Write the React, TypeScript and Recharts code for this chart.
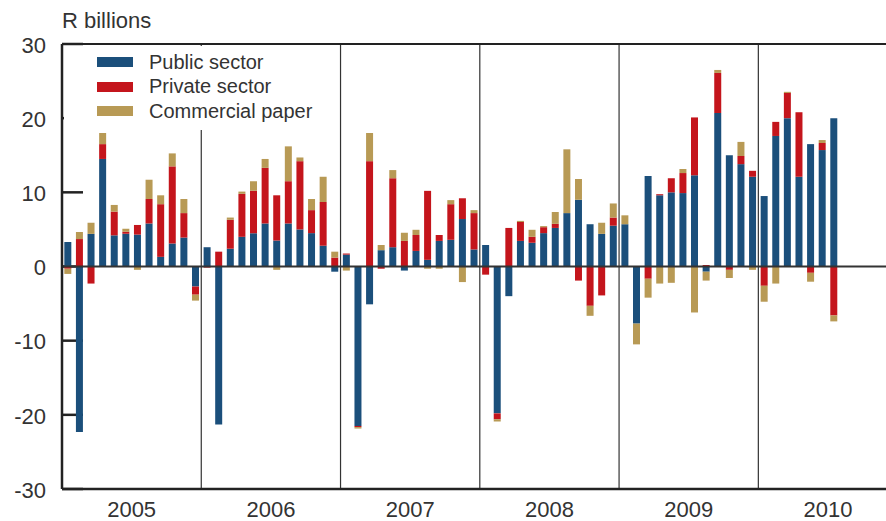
import { Bar, BarChart, CartesianGrid, Legend, ReferenceLine, XAxis, YAxis } from 'recharts';

const FONT = '"Liberation Sans", Arial, sans-serif';
const INK = '#333';

const years = ['2005', '2006', '2007', '2008', '2009', '2010'];
// frame runs Jan 2005 .. Nov 2010, data stops at Jul 2010
const slotCount = 71;

// monthly net issuance, R billions
const publicSector = [
  3.3, -22.3, 4.4, 14.5, 4.2, 4.4, 4.3, 5.8, 1.3, 3.1, 3.9, -2.7,
  2.6, -21.3, 2.4, 4.0, 4.5, 5.8, 3.5, 5.8, 5.0, 4.5, 2.8, -0.7,
  1.6, -21.5, -5.1, 2.2, 2.6, -0.55, 2.1, 0.9, 3.45, 3.6, 6.4, 2.3,
  2.9, -19.8, -4.0, 3.45, 3.2, 4.5, 5.2, 7.2, 9.0, 5.7, 4.4, 5.5,
  5.7, -7.7, 12.2, 9.6, 10.0, 9.9, 12.3, -0.7, 20.7, 15.0, 13.8, 12.1,
  9.5, 17.6, 20.0, 12.1, 16.5, 15.7, 20.0,
];
const privateSector = [
  -0.3, 3.7, -2.3, 2.0, 3.2, 0.3, 1.3, 3.3, 7.1, 10.4, 3.3, -1.1,
  -0.15, 2.0, 3.9, 5.8, 5.7, 7.5, 6.1, 5.7, 9.2, 3.1, 5.9, 1.2,
  0.15, -0.15, 14.2, -0.3, 9.3, 3.45, 2.15, 9.3, 0.8, 4.8, 2.8, 4.9,
  -1.1, -0.8, 5.2, 2.55, 0.8, 0.8, 0.55, 0, -1.9, -5.3, -3.9, 1.1,
  0, 0, -1.65, 0.15, 1.9, 2.7, 7.8, 0.2, 5.4, -0.45, 1.1, 0.8,
  -2.6, 1.9, 3.4, 8.7, -0.85, 0.95, -6.6,
];
const commercialPaper = [
  -0.7, 0.95, 1.5, 1.5, 0.9, 0.4, -0.45, 2.6, 1.2, 1.75, 1.9, -0.8,
  0, 0, 0.3, 0.3, 1.3, 1.2, -0.45, 4.7, 0.5, 1.5, 3.4, 0.8,
  -0.55, -0.2, 3.8, 0.7, 1.1, 1.1, 0.7, -0.3, -0.3, 0.55, -2.1, 0.4,
  0, -0.3, 0, 0.15, 0.95, 0.15, 1.6, 8.6, 2.8, -1.35, 1.5, 1.9,
  1.2, -2.8, -2.55, -2.3, -2.2, 0.55, -6.2, -1.2, 0.4, -1.1, 1.9, -0.45,
  -2.15, -2.3, 0.15, 0, -1.2, 0.4, -0.8,
];

const yTicks = [-30, -20, -10, 0, 10, 20, 30];
const yearTicks = [6, 18, 30, 42, 54, 66];
const yearBreaks = [12, 24, 36, 48, 60];

const series = [
  { key: 'pub', name: 'Public sector', color: '#1b4f7b', values: publicSector },
  { key: 'priv', name: 'Private sector', color: '#c4151c', values: privateSector },
  { key: 'cp', name: 'Commercial paper', color: '#b89a55', values: commercialPaper },
];

const data = Array.from({ length: slotCount }, (_, i) => {
  const row: Record<string, string | number | null> = {
    month: `${years[Math.floor(i / 12)]}-${i % 12 + 1}`,
    pos: i + 0.5,
  };
  series.forEach((s) => {
    row[s.key] = i < s.values.length ? s.values[i] : null;
  });
  return row;
});

const renderUnit = (p: any) => {
  const vb = p.viewBox;
  return (
    <text x={vb.x + vb.width} y={vb.y - 16} fontSize={22} fill={INK} fontFamily={FONT}>
      R billions
    </text>
  );
};

function KeyBox() {
  return (
    <div style={{ background: '#fff', width: 270, height: 84, paddingTop: 4, boxSizing: 'border-box' }}>
      {series.map((s) => (
        <div key={s.key} style={{ display: 'flex', alignItems: 'center', height: 24.5 }}>
          <span style={{ display: 'inline-block', width: 36, height: 10, background: s.color, marginLeft: 33 }} />
          <span style={{ marginLeft: 16, fontSize: 20, color: INK, fontFamily: FONT }}>{s.name}</span>
        </div>
      ))}
    </div>
  );
}

export default function App() {
  return (
    <div style={{ position: 'absolute', left: 0, top: 0 }}>
      <BarChart
        width={886}
        height={521}
        data={data}
        stackOffset="sign"
        barCategoryGap="20%"
        margin={{ top: 44, right: 0, bottom: 0, left: 0 }}
      >
        {/* grid rows cut to short stubs = inward y ticks */}
        <CartesianGrid vertical={false} stroke="#222" strokeWidth={2.5} strokeDasharray="21 3000" />
        <XAxis xAxisId="cat" dataKey="month" orientation="top" height={0} hide />
        <XAxis
          xAxisId="yr"
          dataKey="pos"
          type="number"
          domain={[0, slotCount]}
          allowDataOverflow
          ticks={yearTicks}
          tickFormatter={(v) => years[Math.floor(v / 12)]}
          height={32}
          tickLine={false}
          tickSize={0}
          tickMargin={12}
          axisLine={{ stroke: '#222', strokeWidth: 2.5 }}
          tick={{ fontSize: 22, fill: INK, fontFamily: FONT }}
        />
        {yearBreaks.map((b) => (
          <ReferenceLine key={b} xAxisId="yr" x={b} stroke="#333" strokeWidth={1.2} />
        ))}
        {series.map((s) => (
          <Bar
            key={s.key}
            xAxisId="cat"
            dataKey={s.key}
            name={s.name}
            stackId="a"
            fill={s.color}
            isAnimationActive={false}
          />
        ))}
        <ReferenceLine xAxisId="yr" y={0} stroke="#333" strokeWidth={2} />
        <ReferenceLine xAxisId="yr" y={30} stroke="#222" strokeWidth={2} />
        <YAxis
          domain={[-30, 30]}
          ticks={yTicks}
          width={62}
          tickLine={false}
          tickSize={0}
          tickMargin={16}
          tick={{ fontSize: 22, fill: INK, fontFamily: FONT, dy: 1 }}
          axisLine={{ stroke: '#222', strokeWidth: 2.5 }}
          label={renderUnit}
        />
        <Legend
          layout="vertical"
          align="center"
          verticalAlign="middle"
          content={<KeyBox />}
          wrapperStyle={{ left: 64, top: 46, width: 270, height: 84 }}
        />
      </BarChart>
    </div>
  );
}
